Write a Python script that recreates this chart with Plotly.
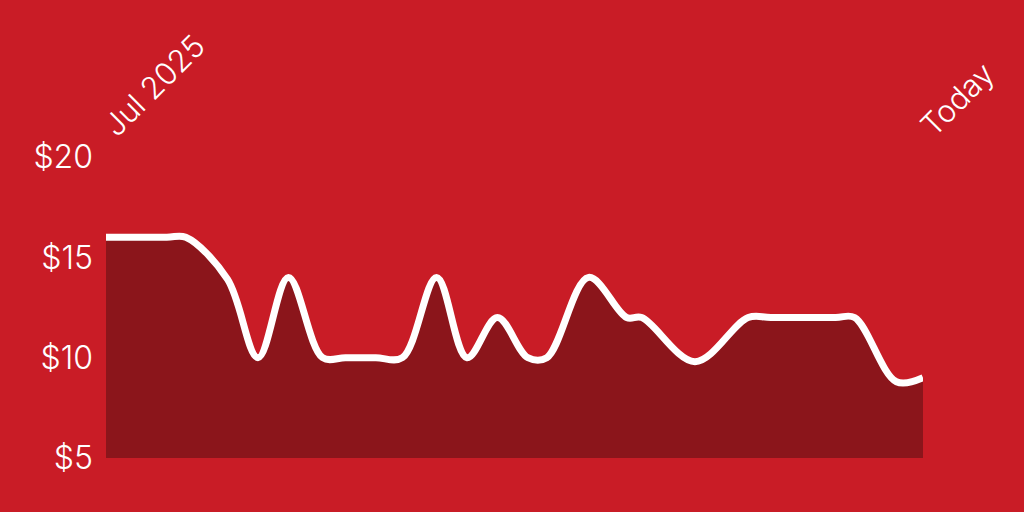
import plotly.graph_objects as go

# price history, Jul 2025 -> today
dates = ['2025-07-01', '2025-07-17', '2025-07-22', '2025-08-02', '2025-08-10',
         '2025-08-18', '2025-08-27', '2025-09-02', '2025-09-10', '2025-09-17',
         '2025-09-26', '2025-10-04', '2025-10-12', '2025-10-20', '2025-10-25',
         '2025-11-05', '2025-11-15', '2025-11-19', '2025-12-03', '2025-12-17',
         '2025-12-23', '2026-01-09', '2026-01-14', '2026-01-25', '2026-02-01']
prices = [16, 16, 16, 13.9, 10,
          14, 10, 10, 10, 10,
          14, 10, 12, 10, 10,
          14, 12, 12, 9.8, 12,
          12, 12, 12, 8.8, 9]

tick_vals = [dates[0], dates[-1]]
tick_text = ['Jul 2025', 'Today']
y_ticks = [5, 10, 15, 20]

bg = '#C91C26'
fill = '#8B151B'

fig = go.Figure()
fig.add_trace(go.Scatter(
    x=dates, y=prices,
    mode='lines',
    line=dict(color='white', width=7, shape='spline', smoothing=1),
    fill='tozeroy', fillcolor=fill,
    hoverinfo='skip',
))

fig.update_layout(
    width=1024, height=512,
    paper_bgcolor=bg, plot_bgcolor=bg,
    margin=dict(l=106, r=101, t=157, b=54),
    showlegend=False,
    font=dict(family='Inter', color='white', weight=300),
)
fig.update_xaxes(
    side='top', range=[dates[0], dates[-1]],
    tickmode='array', tickvals=tick_vals, ticktext=tick_text,
    tickangle=-45, tickfont=dict(size=31, weight=300),
    ticklabelstandoff=7,
    showgrid=False, zeroline=False, showline=False,
)
fig.update_yaxes(
    range=[5, 20], tickmode='array', tickvals=y_ticks,
    ticktext=['$' + str(v) for v in y_ticks],
    tickfont=dict(size=32, weight=300),
    ticklabelstandoff=12,
    showgrid=False, zeroline=False, showline=False,
)

# drop the default page margin so the chart fills the window
fig.write_html("out.html", config={'displayModeBar': False},
               post_script="document.body.style.margin='0';")
